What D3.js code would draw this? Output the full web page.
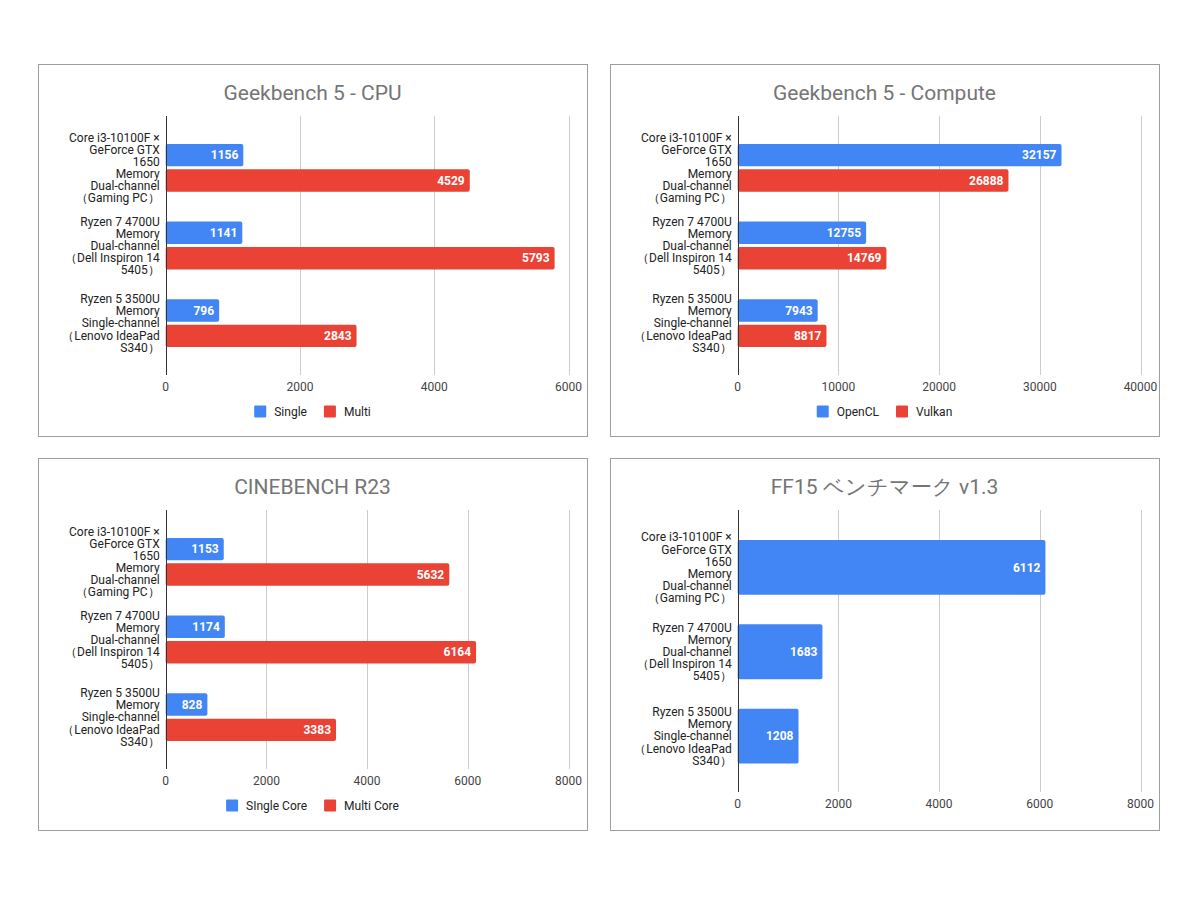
<!DOCTYPE html>
<html><head><meta charset="utf-8">
<script src="https://cdn.jsdelivr.net/npm/d3@7"></script>
<style>body{margin:0;background:#fff}svg{display:block;font-family:Roboto,Arial,sans-serif}</style>
</head><body>
<svg id="c" width="1200" height="900"></svg>
<script>
const categories = [
  ["Core i3-10100F ×","GeForce GTX","1650","Memory","Dual-channel","（Gaming PC）"],
  ["Ryzen 7 4700U","Memory","Dual-channel","（Dell Inspiron 14","5405）"],
  ["Ryzen 5 3500U","Memory","Single-channel","（Lenovo IdeaPad","S340）"]
];
const titles = ["Geekbench 5 - CPU","Geekbench 5 - Compute","CINEBENCH R23","FF15 ベンチマーク v1.3"];
const cpuSingle = [1156, 1141, 796];
const cpuMulti = [4529, 5793, 2843];
const computeOpenCL = [32157, 12755, 7943];
const computeVulkan = [26888, 14769, 8817];
const cineSingle = [1153, 1174, 828];
const cineMulti = [5632, 6164, 3383];
const ff15Score = [6112, 1683, 1208];
const cpuTicks = [0, 2000, 4000, 6000];
const computeTicks = [0, 10000, 20000, 30000, 40000];
const cineTicks = [0, 2000, 4000, 6000, 8000];
const ffTicks = [0, 2000, 4000, 6000, 8000];
const legendCpu = ["Single","Multi"];
const legendCompute = ["OpenCL","Vulkan"];
const legendCine = ["SIngle Core","Multi Core"];

const colors = ["#4285f4","#ea4335"];
const svg = d3.select("#c");

function panel(o){
  const g = svg.append("g").attr("transform",`translate(${o.x0},${o.y0})`);
  g.append("rect").attr("x",0.5).attr("y",0.5).attr("width",549).attr("height",372)
    .attr("fill","#fff").attr("stroke","#9e9e9e");
  g.append("text").attr("x",274.5).attr("y",36).attr("text-anchor","middle")
    .attr("font-size",21).attr("fill","#757575").text(o.title);
  const left = 127.7, right = 530.5;
  const x = d3.scaleLinear().domain([o.ticks[0], o.ticks[o.ticks.length-1]]).range([left,right]);
  const y = d3.scaleBand().domain(d3.range(categories.length)).range(o.band).padding(0);
  // grid
  g.selectAll(".grid").data(o.ticks.slice(1)).enter().append("line")
    .attr("x1",d=>Math.round(x(d))+0.5).attr("x2",d=>Math.round(x(d))+0.5)
    .attr("y1",o.plot[0]).attr("y2",o.plot[1]).attr("stroke","#cccccc");
  g.selectAll(".tl").data(o.ticks).enter().append("text")
    .attr("x",d=>x(d)).attr("y",o.plot[1]+16).attr("text-anchor","middle")
    .attr("font-size",12).attr("fill","#444").text(d=>d);
  // bars
  const n = o.series.length;
  const step = y.step();
  const groupH = step*o.frac;
  const gap = 3;
  const barH = (groupH - gap*(n-1))/n;
  o.series.forEach((s,si)=>{
    const bg = g.append("g");
    s.forEach((v,i)=>{
      const yt = y(i) + (step-groupH)/2 + si*(barH+gap);
      bg.append("rect").attr("x",x(0)).attr("y",yt).attr("width",x(v)-x(0)).attr("height",barH)
        .attr("rx",2).attr("fill",colors[si]);
      bg.append("text").attr("x",x(v)-5).attr("y",yt+barH/2+4.3).attr("text-anchor","end")
        .attr("font-size",12).attr("font-weight","bold").attr("fill","#fff").text(v);
    });
  });
  // axis line
  g.append("line").attr("x1",Math.round(x(0))+0.5).attr("x2",Math.round(x(0))+0.5)
    .attr("y1",o.plot[0]).attr("y2",o.plot[1]).attr("stroke","#333");
  // category labels
  categories.forEach((lines,i)=>{
    const c = y(i)+step/2;
    const lh = 12.1;
    const t = g.append("text").attr("text-anchor","end").attr("font-size",12).attr("fill","#222");
    lines.forEach((l,j)=>{
      t.append("tspan").attr("x",left-6).attr("y",c + (j-(lines.length-1)/2)*lh + 4.3).text(l);
    });
  });
  // legend
  if(o.legend){
    const lg = g.append("g");
    let cx = 0;
    o.legend.forEach((name,i)=>{
      const it = lg.append("g").attr("transform",`translate(${cx},0)`);
      it.append("rect").attr("x",0).attr("y",-6).attr("width",12).attr("height",12).attr("rx",1).attr("fill",colors[i]);
      const tx = it.append("text").attr("x",20).attr("y",4.3).attr("font-size",12).attr("fill","#222").text(name);
      const w = tx.node().getComputedTextLength();
      cx += 20 + w + 17;
    });
    const total = cx - 17;
    lg.attr("transform",`translate(${274.5 - total/2},347.5)`);
  }
}

panel({x0:38,y0:64,title:titles[0],series:[cpuSingle,cpuMulti],ticks:cpuTicks,plot:[52,311],band:[65,298],frac:0.615,legend:legendCpu});
panel({x0:610,y0:64,title:titles[1],series:[computeOpenCL,computeVulkan],ticks:computeTicks,plot:[52,311],band:[65,298],frac:0.615,legend:legendCompute});
panel({x0:38,y0:458,title:titles[2],series:[cineSingle,cineMulti],ticks:cineTicks,plot:[52,311],band:[65,298],frac:0.615,legend:legendCine});
panel({x0:610,y0:458,title:titles[3],series:[ff15Score],ticks:ffTicks,plot:[52,334],band:[67.2,320.3],frac:0.65,legend:null});
</script>
</body></html>
